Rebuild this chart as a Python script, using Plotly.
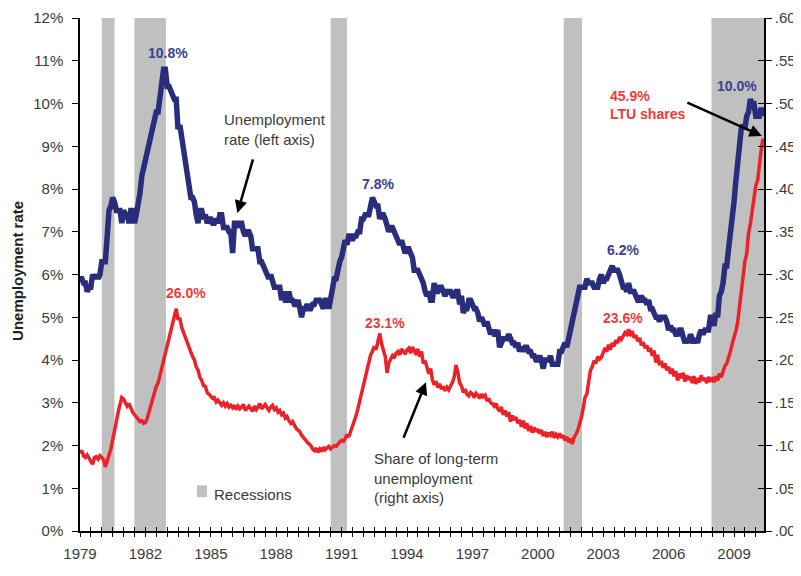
import pandas as pd
import plotly.graph_objects as go

# ---------------- data (monthly, Jan 1979 - May 2010) ----------------
unemployment_rate = [
    # 1979
    5.9, 5.9, 5.8, 5.8, 5.6, 5.7, 5.7, 6.0, 5.9, 6.0, 5.9, 6.0,
    # 1980
    6.3, 6.3, 6.3, 6.9, 7.5, 7.6, 7.8, 7.7, 7.5, 7.5, 7.5, 7.2,
    # 1981
    7.5, 7.4, 7.4, 7.2, 7.5, 7.5, 7.2, 7.4, 7.6, 7.9, 8.3, 8.5,
    # 1982
    8.6, 8.9, 9.0, 9.3, 9.4, 9.6, 9.8, 9.8, 10.1, 10.4, 10.8, 10.8,
    # 1983
    10.4, 10.4, 10.3, 10.2, 10.1, 10.1, 9.4, 9.5, 9.2, 8.8, 8.5, 8.3,
    # 1984
    8.0, 7.8, 7.8, 7.7, 7.4, 7.2, 7.5, 7.5, 7.3, 7.4, 7.2, 7.3,
    # 1985
    7.3, 7.2, 7.2, 7.3, 7.2, 7.4, 7.4, 7.1, 7.1, 7.1, 7.0, 7.0,
    # 1986
    6.5, 7.2, 7.2, 7.1, 7.2, 7.2, 7.0, 6.9, 7.0, 7.0, 6.9, 6.6,
    # 1987
    6.6, 6.6, 6.6, 6.3, 6.3, 6.2, 6.1, 6.0, 5.9, 6.0, 5.8, 5.7,
    # 1988
    5.7, 5.7, 5.7, 5.4, 5.6, 5.4, 5.4, 5.6, 5.4, 5.4, 5.3, 5.3,
    # 1989
    5.4, 5.2, 5.0, 5.2, 5.2, 5.3, 5.2, 5.2, 5.3, 5.3, 5.4, 5.4,
    # 1990
    5.4, 5.3, 5.2, 5.4, 5.4, 5.2, 5.5, 5.7, 5.9, 5.9, 6.2, 6.3,
    # 1991
    6.4, 6.6, 6.8, 6.7, 6.9, 6.9, 6.8, 6.9, 6.9, 7.0, 7.0, 7.3,
    # 1992
    7.3, 7.4, 7.4, 7.4, 7.6, 7.8, 7.7, 7.6, 7.6, 7.3, 7.4, 7.4,
    # 1993
    7.3, 7.1, 7.0, 7.1, 7.1, 7.0, 6.9, 6.8, 6.7, 6.8, 6.6, 6.5,
    # 1994
    6.6, 6.6, 6.5, 6.4, 6.1, 6.1, 6.1, 6.0, 5.9, 5.8, 5.6, 5.5,
    # 1995
    5.6, 5.4, 5.4, 5.8, 5.6, 5.6, 5.7, 5.7, 5.6, 5.5, 5.6, 5.6,
    # 1996
    5.6, 5.5, 5.5, 5.6, 5.6, 5.3, 5.5, 5.1, 5.2, 5.2, 5.4, 5.4,
    # 1997
    5.3, 5.2, 5.2, 5.1, 4.9, 5.0, 4.9, 4.8, 4.9, 4.7, 4.6, 4.7,
    # 1998
    4.6, 4.6, 4.7, 4.3, 4.4, 4.5, 4.5, 4.5, 4.6, 4.5, 4.4, 4.4,
    # 1999
    4.3, 4.4, 4.2, 4.3, 4.2, 4.3, 4.3, 4.2, 4.2, 4.1, 4.1, 4.0,
    # 2000
    4.0, 4.1, 4.0, 3.8, 4.0, 4.0, 4.0, 4.1, 3.9, 3.9, 3.9, 3.9,
    # 2001
    4.2, 4.2, 4.3, 4.4, 4.3, 4.5, 4.6, 4.9, 5.0, 5.3, 5.5, 5.7,
    # 2002
    5.7, 5.7, 5.7, 5.9, 5.8, 5.8, 5.8, 5.7, 5.7, 5.7, 5.9, 6.0,
    # 2003
    5.8, 5.9, 5.9, 6.0, 6.1, 6.2, 6.1, 6.1, 6.1, 6.0, 5.8, 5.7,
    # 2004
    5.7, 5.6, 5.8, 5.6, 5.6, 5.6, 5.5, 5.4, 5.4, 5.5, 5.4, 5.4,
    # 2005
    5.3, 5.4, 5.2, 5.2, 5.1, 5.0, 5.0, 4.9, 5.0, 5.0, 5.0, 4.9,
    # 2006
    4.7, 4.8, 4.7, 4.7, 4.6, 4.6, 4.7, 4.7, 4.5, 4.4, 4.5, 4.4,
    # 2007
    4.6, 4.5, 4.4, 4.5, 4.4, 4.6, 4.7, 4.6, 4.7, 4.7, 4.7, 5.0,
    # 2008
    5.0, 4.8, 5.1, 5.0, 5.5, 5.6, 5.8, 6.2, 6.2, 6.6, 6.9, 7.4,
    # 2009
    7.7, 8.2, 8.6, 8.9, 9.4, 9.5, 9.4, 9.7, 9.8, 10.1, 10.0, 10.0,
    # 2010
    9.7, 9.7, 9.7, 9.9, 9.7,
]

ltu_share = [  # share of unemployed out of work 27+ weeks (fraction)
    # 1979
    .091, .094, .088, .086, .089, .085, .082, .078, .086, .087, .084, .088,
    # 1980
    .086, .083, .075, .081, .089, .096, .105, .116, .128, .139, .148, .156,
    # 1981
    .154, .150, .146, .149, .143, .139, .136, .134, .131, .128, .129, .126,
    # 1982
    .127, .132, .139, .145, .154, .160, .169, .173, .182, .189, .198, .205,
    # 1983
    .217, .225, .234, .243, .251, .260, .247, .249, .238, .232, .226, .221,
    # 1984
    .214, .210, .204, .200, .192, .188, .180, .176, .170, .169, .162, .160,
    # 1985
    .158, .155, .156, .151, .153, .150, .147, .150, .146, .149, .145, .147,
    # 1986
    .144, .147, .142, .146, .143, .145, .148, .141, .144, .146, .143, .140,
    # 1987
    .146, .142, .145, .149, .143, .146, .148, .144, .141, .145, .147, .142,
    # 1988
    .144, .139, .141, .136, .138, .132, .134, .129, .126, .128, .123, .120,
    # 1989
    .118, .116, .112, .110, .107, .104, .102, .100, .096, .094, .097, .092,
    # 1990
    .096, .093, .098, .095, .097, .099, .096, .098, .100, .099, .102, .104,
    # 1991
    .106, .105, .108, .113, .110, .116, .122, .129, .135, .143, .152, .164,
    # 1992
    .169, .178, .189, .199, .206, .210, .216, .212, .220, .231, .219, .212,
    # 1993
    .204, .185, .196, .201, .205, .202, .208, .210, .206, .213, .210, .207,
    # 1994
    .212, .214, .208, .215, .211, .206, .213, .204, .210, .196, .199, .191,
    # 1995
    .184, .190, .177, .171, .175, .168, .172, .166, .169, .164, .168, .165,
    # 1996
    .169, .174, .180, .194, .186, .173, .170, .162, .166, .160, .158, .162,
    # 1997
    .160, .156, .161, .159, .155, .160, .157, .159, .152, .155, .150, .149,
    # 1998
    .146, .149, .143, .140, .145, .136, .141, .134, .139, .128, .135, .130,
    # 1999
    .133, .126, .130, .122, .129, .120, .126, .117, .123, .115, .121, .116,
    # 2000
    .119, .114, .118, .111, .116, .110, .115, .112, .116, .109, .113, .110,
    # 2001
    .114, .109, .112, .106, .110, .104, .108, .102, .110, .113, .118, .125,
    # 2002
    .133, .144, .156, .160, .174, .188, .192, .199, .196, .204, .201, .203,
    # 2003
    .209, .214, .210, .218, .212, .220, .216, .223, .220, .227, .224, .229,
    # 2004
    .232, .230, .236, .228, .234, .226, .229, .222, .226, .217, .221, .214,
    # 2005
    .217, .210, .214, .205, .211, .197, .206, .194, .199, .191, .196, .188,
    # 2006
    .192, .184, .190, .181, .187, .176, .184, .179, .185, .175, .182, .177,
    # 2007
    .180, .173, .181, .172, .179, .174, .182, .176, .179, .173, .180, .176,
    # 2008
    .178, .174, .181, .176, .184, .180, .188, .193, .196, .202, .210, .219,
    # 2009
    .226, .234, .243, .261, .275, .292, .315, .324, .348, .359, .373, .392,
    # 2010
    .404, .410, .432, .446, .459,
]

months = pd.date_range("1979-01-01", periods=len(unemployment_rate), freq="MS")

recession_start = ["1980-01-01", "1981-07-01", "1990-07-01", "2001-03-10", "2007-12-20"]
recession_end = ["1980-08-01", "1982-12-10", "1991-04-01", "2002-01-10", "2010-05-20"]

left_tick_vals = list(range(0, 13))
left_tick_text = ["0%", "1%", "2%", "3%", "4%", "5%", "6%", "7%", "8%", "9%",
                  "10%", "11%", "12%"]
right_tick_vals = [0, .05, .10, .15, .20, .25, .30, .35, .40, .45, .50, .55, .60]
right_tick_text = [".00", ".05", ".10", ".15", ".20", ".25", ".30", ".35", ".40",
                   ".45", ".50", ".55", ".60"]

X_START, X_END = "1979-01-01", "2010-05-18"

NAVY = "#2a2d7c"
RED = "#ec2229"
LABEL_NAVY = "#3b4192"
LABEL_RED = "#f03a3a"
TXT = "#3a3a3a"
FONT = "Liberation Sans, Arial, sans-serif"


def yr(v):
    """decimal year -> timestamp string (layout positions only)"""
    y = int(v)
    frac = v - y
    start = pd.Timestamp(year=y, month=1, day=1)
    end = pd.Timestamp(year=y + 1, month=1, day=1)
    return str(start + (end - start) * frac)


fig = go.Figure()

fig.add_trace(go.Scatter(
    x=months, y=unemployment_rate, mode="lines", name="Unemployment rate",
    line=dict(color=NAVY, width=5.5), xaxis="x", yaxis="y", showlegend=False,
))
fig.add_trace(go.Scatter(
    x=months, y=ltu_share, mode="lines", name="Share of long-term unemployment",
    line=dict(color=RED, width=3.5), xaxis="x", yaxis="y2", showlegend=False,
))
# empty trace to materialise the overlay axes used for crossing tick marks
fig.add_trace(go.Scatter(x=[], y=[], xaxis="x2", yaxis="y3", showlegend=False,
                         hoverinfo="skip"))

shapes = []
for s, e in zip(recession_start, recession_end):
    shapes.append(dict(type="rect", xref="x", yref="paper", x0=s, x1=e, y0=0, y1=1,
                       fillcolor="#c0c0c0", line=dict(width=0), layer="below"))
# legend swatch
shapes.append(dict(type="rect", xref="paper", yref="paper",
                   x0=0.171, x1=0.1857, y0=0.066, y1=0.089,
                   fillcolor="#c0c0c0", line=dict(width=0)))

tickfont = dict(family=FONT, size=15, color=TXT)

annotations = [
    dict(x=yr(1983.04), y=11.19, text="<b>10.8%</b>", font=dict(family=FONT, size=14, color=LABEL_NAVY)),
    dict(x=yr(1983.86), y=5.57, text="<b>26.0%</b>", font=dict(family=FONT, size=14, color=LABEL_RED)),
    dict(x=yr(1992.67), y=8.12, text="<b>7.8%</b>", font=dict(family=FONT, size=14, color=LABEL_NAVY)),
    dict(x=yr(1992.99), y=4.87, text="<b>23.1%</b>", font=dict(family=FONT, size=14, color=LABEL_RED)),
    dict(x=yr(2003.91), y=6.57, text="<b>6.2%</b>", font=dict(family=FONT, size=14, color=LABEL_NAVY)),
    dict(x=yr(2003.91), y=4.99, text="<b>23.6%</b>", font=dict(family=FONT, size=14, color=LABEL_RED)),
    dict(x=yr(2009.14), y=10.42, text="<b>10.0%</b>", font=dict(family=FONT, size=14, color=LABEL_NAVY)),
    dict(x=yr(2003.22), y=9.96, text="<b>45.9%</b><br><b>LTU shares</b>", xanchor="left", align="left",
         font=dict(family=FONT, size=14, color=LABEL_RED)),
    dict(x=yr(1985.51), y=9.40, text="Unemployment<br>rate (left axis)", xanchor="left", align="left",
         font=dict(family=FONT, size=15, color=TXT)),
    dict(x=yr(1992.39), y=1.23, text="Share of long-term<br>unemployment<br>(right axis)",
         xanchor="left", align="left", font=dict(family=FONT, size=15, color=TXT)),
    # arrows
    dict(x=yr(1986.22), y=7.44, ax=16, ay=-55, text="", showarrow=True,
         arrowhead=2, arrowsize=1, arrowwidth=2.5, arrowcolor="black"),
    dict(x=yr(1994.87), y=3.48, ax=-23, ay=57, text="", showarrow=True,
         arrowhead=2, arrowsize=1, arrowwidth=2.5, arrowcolor="black"),
    dict(x=yr(2010.28), y=9.24, ax=-76, ay=-34, text="", showarrow=True,
         arrowhead=2, arrowsize=1, arrowwidth=2.5, arrowcolor="black"),
    # legend text
    dict(xref="paper", yref="paper", x=0.193, y=0.0716, text="Recessions", xanchor="left",
         yanchor="middle", font=dict(family=FONT, size=15, color=TXT)),
    # y-axis title
    dict(xref="paper", yref="paper", x=-0.0906, y=0.507, text="<b>Unemployment rate</b>",
         textangle=-90, xanchor="center", yanchor="middle",
         font=dict(family=FONT, size=15, color="#222222")),
]
for a in annotations:
    a.setdefault("xref", "x")
    a.setdefault("yref", "y")
    a.setdefault("showarrow", False)
    if a["xref"] == "x" and a.get("showarrow"):
        a["axref"] = "pixel"
        a["ayref"] = "pixel"

fig.update_layout(
    width=801, height=576,
    # page body adds an 8px offset, margins compensate for it
    margin=dict(l=72, r=45, t=10, b=53, autoexpand=False),
    paper_bgcolor="white", plot_bgcolor="white",
    font=dict(family=FONT, color=TXT),
    shapes=shapes,
    annotations=annotations,
    xaxis=dict(
        type="date", range=[X_START, X_END], automargin=False,
        tick0="1979-01-01", dtick="M36", tickformat="%Y",
        ticks="outside", ticklen=4, tickwidth=1.2, tickcolor="black",
        minor=dict(dtick="M6", tick0="1979-01-01", ticks="outside", ticklen=4,
                   tickwidth=1.2, tickcolor="black"),
        showline=True, linecolor="black", linewidth=1.5,
        showgrid=False, zeroline=False, tickfont=tickfont,
        ticklabelstandoff=4, ticklabeloverflow="allow",
    ),
    xaxis2=dict(
        type="date", range=[X_START, X_END], overlaying="x", anchor="y", automargin=False,
        tick0="1979-01-01", dtick="M6", ticks="inside", ticklen=4, tickwidth=1.2,
        tickcolor="black", showticklabels=False, showline=False, showgrid=False,
        zeroline=False,
    ),
    yaxis=dict(
        range=[0, 12], tickvals=left_tick_vals, ticktext=left_tick_text, automargin=False,
        ticks="outside", ticklen=6, tickwidth=1.2, tickcolor="black",
        showline=True, linecolor="black", linewidth=1.5,
        showgrid=False, zeroline=False, tickfont=tickfont,
        ticklabelstandoff=6, ticklabeloverflow="allow",
    ),
    yaxis2=dict(
        range=[0, 0.6], tickvals=right_tick_vals, ticktext=right_tick_text,
        overlaying="y", side="right", anchor="x", automargin=False,
        ticks="outside", ticklen=6, tickwidth=1.2, tickcolor="black",
        showline=True, linecolor="black", linewidth=1.5,
        showgrid=False, zeroline=False, tickfont=tickfont,
        ticklabeloverflow="allow",
    ),
    yaxis3=dict(
        range=[0, 0.6], tickvals=right_tick_vals, overlaying="y", side="right",
        anchor="x", ticks="inside", ticklen=6, tickwidth=1.2, tickcolor="black",
        showticklabels=False, showline=False, showgrid=False, zeroline=False,
        automargin=False,
    ),
)

fig.write_html("out.html")
